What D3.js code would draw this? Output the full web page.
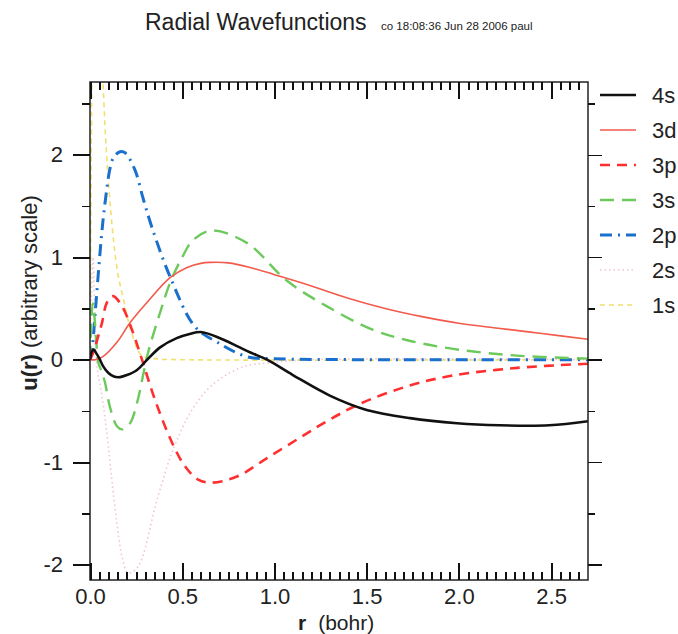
<!DOCTYPE html>
<html>
<head>
<meta charset="utf-8">
<script src="https://cdn.jsdelivr.net/npm/d3@7"></script>
<style>
  body { margin: 0; background: #fff; }
  text { font-family: "Liberation Sans", Arial, sans-serif; fill: #222; }
</style>
</head>
<body>
<div id="chart"></div>
<script>
// orbital names, legend order
const orbitals = ["4s", "3d", "3p", "3s", "2p", "2s", "1s"];

// radial wavefunctions (r in bohr, u arbitrary)
const r4s = [0, 0.01, 0.02, 0.035, 0.05, 0.07, 0.1, 0.13, 0.163, 0.2, 0.255, 0.31, 0.38, 0.47, 0.54, 0.6, 0.705, 0.8, 0.87, 0.96, 1.1, 1.3, 1.5, 1.735, 1.99, 2.22, 2.49, 2.7];
const u4s = [0, 0.08, 0.1, 0.06, 0.015, -0.06, -0.13, -0.165, -0.17, -0.15, -0.1, 0, 0.12, 0.21, 0.25, 0.27, 0.21, 0.13, 0.07, 0, -0.15, -0.35, -0.49, -0.57, -0.62, -0.64, -0.64, -0.6];

const r3d = [0, 0.03, 0.07, 0.146, 0.217, 0.31, 0.434, 0.526, 0.6, 0.65, 0.75, 0.868, 1.0, 1.2, 1.4, 1.6, 1.8, 2.0, 2.2, 2.45, 2.7];
const u3d = [0, 0.0, 0.03, 0.17, 0.36, 0.56, 0.8, 0.9, 0.94, 0.95, 0.945, 0.9, 0.83, 0.72, 0.6, 0.5, 0.42, 0.355, 0.31, 0.255, 0.2];

const r3p = [0, 0.02, 0.04, 0.065, 0.092, 0.125, 0.174, 0.228, 0.282, 0.352, 0.445, 0.515, 0.586, 0.66, 0.797, 0.96, 1.139, 1.285, 1.464, 1.72, 1.95, 2.315, 2.7];
const u3p = [0, 0.08, 0.2, 0.36, 0.56, 0.62, 0.52, 0.29, 0, -0.39, -0.81, -1.04, -1.17, -1.2, -1.14, -0.96, -0.76, -0.6, -0.43, -0.26, -0.16, -0.08, -0.04];

const r3s = [0, 0.008, 0.015, 0.025, 0.035, 0.045, 0.06, 0.081, 0.108, 0.146, 0.174, 0.217, 0.255, 0.287, 0.315, 0.38, 0.434, 0.5, 0.56, 0.66, 0.85, 1.068, 1.285, 1.535, 1.72, 1.99, 2.315, 2.7];
const u3s = [0, 0.4, 0.55, 0.4, 0.15, -0.03, -0.1, -0.22, -0.46, -0.65, -0.68, -0.62, -0.42, -0.16, 0.07, 0.46, 0.75, 1.0, 1.17, 1.26, 1.14, 0.77, 0.52, 0.29, 0.19, 0.1, 0.04, 0.01];

const r2p = [0, 0.01, 0.03, 0.05, 0.07, 0.09, 0.11, 0.13, 0.163, 0.19, 0.244, 0.287, 0.336, 0.434, 0.57, 0.69, 0.85, 1.0, 1.5, 2.0, 2.7];
const u2p = [0, 0.08, 0.5, 0.95, 1.35, 1.65, 1.88, 1.98, 2.03, 2.02, 1.85, 1.58, 1.29, 0.81, 0.32, 0.17, 0.03, 0.01, 0, 0, 0];

const r2s = [0, 0.008, 0.016, 0.024, 0.03, 0.04, 0.06, 0.08, 0.1, 0.12, 0.146, 0.175, 0.206, 0.26, 0.363, 0.45, 0.553, 0.667, 0.83, 0.976, 1.2, 2.7];
const u2s = [0, 0.6, 1.0, 0.6, 0.15, -0.1, -0.3, -0.55, -0.85, -1.2, -1.6, -1.93, -2.08, -2.02, -1.37, -0.88, -0.49, -0.24, -0.07, -0.03, 0, 0];

const r1s = [0, 0.004, 0.008, 0.012, 0.02, 0.03, 0.04, 0.05, 0.07, 0.09, 0.12, 0.15, 0.18, 0.22, 0.28, 0.35, 0.5, 2.7];
const u1s = [0, 1.2, 2.3, 3.0, 3.6, 3.8, 3.7, 3.4, 2.71, 2.0, 1.3, 0.85, 0.6, 0.3, 0.04, 0.01, 0, 0];

// tick values
const xMajor = [0, 0.5, 1.0, 1.5, 2.0, 2.5];
const yMajor = [-2, -1, 0, 1, 2];
const yMinor = [-1.5, -0.5, 0.5, 1.5, 2.5];

const rValues = { "4s": r4s, "3d": r3d, "3p": r3p, "3s": r3s, "2p": r2p, "2s": r2s, "1s": r1s };
const uValues = { "4s": u4s, "3d": u3d, "3p": u3p, "3s": u3s, "2p": u2p, "2s": u2s, "1s": u1s };

// line styles
const styles = {
  "4s": { color: "#111111", width: 2.6, dash: null },
  "3d": { color: "#f25a4c", width: 1.6, dash: null },
  "3p": { color: "#ff2f2f", width: 2.6, dash: "10,7" },
  "3s": { color: "#6cc95c", width: 2.4, dash: "14,8" },
  "2p": { color: "#1a70cc", width: 3, dash: "12,6,2,6" },
  "2s": { color: "#f0c4d4", width: 1.6, dash: "1.5,3" },
  "1s": { color: "#f0e070", width: 1.6, dash: "5,4" }
};

const W = 678, H = 634;
const margin = { top: 82, right: 90, bottom: 54, left: 90 };
const width = W - margin.left - margin.right;
const height = H - margin.top - margin.bottom;

const svg = d3.select("#chart").append("svg")
  .attr("width", W)
  .attr("height", H);

const g = svg.append("g")
  .attr("transform", `translate(${margin.left},${margin.top})`);

const x = d3.scaleLinear().domain([0, 2.7]).range([0, width]);
const y = d3.scaleLinear().domain([-2.15, 2.71]).range([height, 0]);

// minor x ticks every 0.05
const xMinor = d3.range(1, 54).map(i => i * 0.05)
  .filter(d => !xMajor.some(m => Math.abs(m - d) < 1e-6));

svg.append("clipPath").attr("id", "plotclip")
  .append("rect").attr("x", 0).attr("y", 0).attr("width", width).attr("height", height);

// curves
const line = d3.line()
  .x(d => x(d[0]))
  .y(d => y(d[1]))
  .curve(d3.curveCatmullRom.alpha(0.5));

const drawOrder = orbitals.slice().reverse();
g.append("g").attr("clip-path", "url(#plotclip)")
  .selectAll("path")
  .data(drawOrder)
  .join("path")
  .attr("fill", "none")
  .attr("stroke", k => styles[k].color)
  .attr("stroke-width", k => styles[k].width)
  .attr("stroke-dasharray", k => styles[k].dash)
  .attr("d", k => line(d3.zip(rValues[k], uValues[k])));

// axes
const styleAxis = (sel, w = 1.8) => {
  sel.select(".domain").remove();
  sel.selectAll(".tick line")
    .attr("stroke", "#111")
    .attr("stroke-width", w)
    .attr("shape-rendering", "crispEdges");
  sel.selectAll("text").attr("font-size", 22).attr("fill", "#222")
    .attr("font-family", "Liberation Sans, Arial, sans-serif");
};

// frame
g.append("rect")
  .attr("width", width).attr("height", height)
  .attr("fill", "none").attr("stroke", "#222").attr("stroke-width", 1.5);

// x axis: labels below, ticks pointing inward on bottom and top
g.append("g").attr("transform", `translate(0,${height})`)
  .call(d3.axisBottom(x).tickValues(xMajor).tickFormat(d3.format(".1f")).tickSize(0).tickPadding(8))
  .call(styleAxis);
g.append("g").attr("transform", `translate(0,${height})`)
  .call(d3.axisTop(x).tickValues(xMajor).tickFormat("").tickSize(17))
  .call(styleAxis, 2);
g.append("g").attr("transform", `translate(0,${height})`)
  .call(d3.axisTop(x).tickValues(xMinor).tickFormat("").tickSize(8))
  .call(styleAxis, 2);
g.append("g")
  .call(d3.axisBottom(x).tickValues(xMajor).tickFormat("").tickSize(17))
  .call(styleAxis, 2);
g.append("g")
  .call(d3.axisBottom(x).tickValues(xMinor).tickFormat("").tickSize(8))
  .call(styleAxis, 2);

// y axis: ticks pointing outward on left and right
g.append("g")
  .call(d3.axisLeft(y).tickValues(yMajor).tickFormat(d => String(d)).tickSize(17).tickPadding(10))
  .call(styleAxis);
g.append("g")
  .call(d3.axisLeft(y).tickValues(yMinor).tickFormat("").tickSize(8))
  .call(styleAxis);
g.append("g").attr("transform", `translate(${width},0)`)
  .call(d3.axisRight(y).tickValues(yMajor).tickFormat("").tickSize(14))
  .call(styleAxis, 1.5);
g.append("g").attr("transform", `translate(${width},0)`)
  .call(d3.axisRight(y).tickValues(yMinor).tickFormat("").tickSize(7))
  .call(styleAxis, 1.5);

// title
svg.append("text").attr("x", 145).attr("y", 30)
  .attr("font-size", 23).text("Radial Wavefunctions");
svg.append("text").attr("x", 381).attr("y", 30)
  .attr("font-size", 11.5).text("co 18:08:36 Jun 28 2006 paul");

// axis titles
const xtl = svg.append("text").attr("x", 298).attr("y", 630).attr("font-size", 21);
xtl.append("tspan").attr("font-weight", "bold").text("r");
xtl.append("tspan").attr("dx", 12).text("(bohr)");

const ytl = svg.append("text")
  .attr("transform", "translate(37,293) rotate(-90)")
  .attr("text-anchor", "middle").attr("font-size", 22);
ytl.append("tspan").attr("font-weight", "bold").text("u(r)");
ytl.append("tspan").text(" (arbitrary scale)");

// legend
const legend = svg.append("g").selectAll("g")
  .data(orbitals)
  .join("g")
  .attr("transform", (k, i) => `translate(600,${95 + i * 35})`);
legend.append("line")
  .attr("x1", 0).attr("x2", 36)
  .attr("stroke", k => styles[k].color)
  .attr("stroke-width", k => styles[k].width)
  .attr("stroke-dasharray", k => styles[k].dash);
legend.append("text")
  .attr("x", 52).attr("dy", "0.36em")
  .attr("font-size", 22)
  .text(k => k);
</script>
</body>
</html>
